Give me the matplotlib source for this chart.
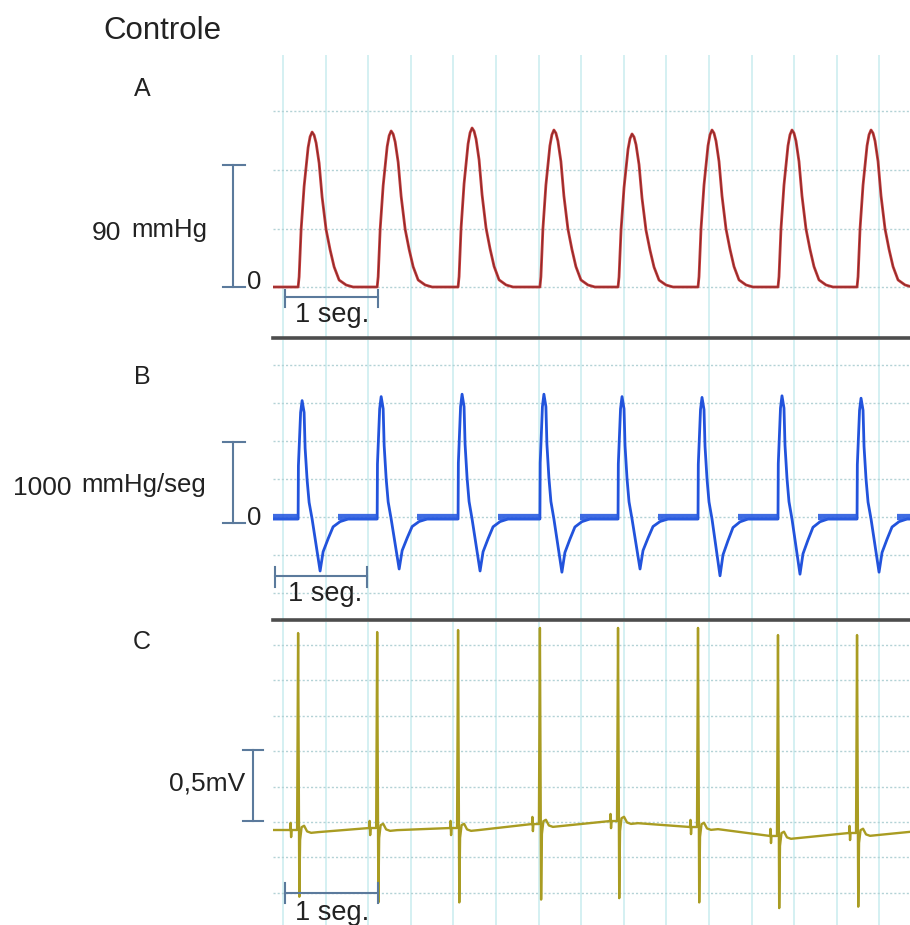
import numpy as np
import matplotlib
matplotlib.use("Agg")
import matplotlib.pyplot as plt

plt.rcParams['font.family'] = ['Liberation Sans', 'DejaVu Sans']

# ---------------- data ----------------
beat_times = [0.27, 1.12, 1.99, 2.87, 3.71, 4.57, 5.43, 6.28]          # s
# A: ventricular pressure (mmHg)
pressure_peak = [114.3, 115.1, 117.3, 115.8, 112.9, 115.8, 115.8, 115.8]
pressure_shape_t = [0, 1, 3, 6, 10, 12, 14, 16, 18, 21, 24, 28, 32, 36, 41, 48, 55]   # px after onset
pressure_shape_v = [0, 0.065, 0.37, 0.65, 0.90, 0.97, 1.0, 0.98, 0.93, 0.80, 0.58,
                    0.37, 0.24, 0.13, 0.045, 0.013, 0]
# B: dP/dt (mmHg/seg)
dpdt_max = [1480, 1530, 1560, 1560, 1530, 1520, 1540, 1510]
dpdt_min = [-650, -625, -650, -665, -625, -710, -690, -665]
dpdt_shape_t = [0, 0.3, 2.5, 4, 6, 7, 9, 11, 14, 17, 20, 22, 25, 30, 35, 42, 50]
dpdt_shape_v = [0, 0.45, 0.9, 1.0, 0.9, 0.6, 0.33, 0.14, 0, -0.38, -0.77, -1.0,
                -0.63, -0.38, -0.15, -0.05, 0]
# C: ECG (mV)
ecg_r = [1.387, 1.394, 1.408, 1.423, 1.423, 1.423, 1.373, 1.373]
ecg_s = [-0.47, -0.51, -0.51, -0.49, -0.48, -0.51, -0.55, -0.54]
ecg_baseline = [0.0, 0.014, 0.014, 0.042, 0.063, 0.021, -0.042, -0.021]
ecg_shape_t = [-8, -7.5, -7, -6.5, -1, 2, 3.5, 6, 9, 13, 20]
ecg_shape_v = [0, 0.05, -0.05, 0, 0, -0.07, 0.02, 0.03, -0.01, -0.02, -0.015]

# ---------------- layout ----------------
W, H = 910, 925
X0, PX_PER_S = 273, 93.0
T_END = (W - X0) / PX_PER_S

fig = plt.figure(figsize=(W / 100, H / 100), dpi=100)
fig.patch.set_facecolor('white')

def px_axes(top, bottom):
    return fig.add_axes([X0 / W, 1 - bottom / H, (W - X0) / W, (bottom - top) / H])

def tx(px):
    return (px - X0) / PX_PER_S

panels = {
    'A': dict(top=55, bottom=338, zero=287, ppu=122 / 90, hgrid0=287, hstep=58.5),
    'B': dict(top=340, bottom=620, zero=519, ppu=80 / 1000, hgrid0=517, hstep=38.0),
    'C': dict(top=622, bottom=925, zero=830, ppu=142.0, hgrid0=822, hstep=35.4),
}

axes = {}
for key, p in panels.items():
    ax = px_axes(p['top'], p['bottom'])
    ax.set_xlim(0, T_END)
    ax.set_ylim((p['zero'] - p['bottom']) / p['ppu'], (p['zero'] - p['top']) / p['ppu'])
    ax.set_xticks([]); ax.set_yticks([])
    for s in ax.spines.values():
        s.set_visible(False)
    # grid
    for k in range(16):
        xv = tx(283 + 42.6 * k)
        if xv < T_END:
            ax.axvline(xv, color='#cdedf0', lw=1.2, zorder=0)
    for k in range(-10, 11):
        py = p['hgrid0'] + k * p['hstep']
        if p['top'] + 2 < py < p['bottom'] - 2:
            ax.axhline((p['zero'] - py) / p['ppu'], color='#b3d2d6', lw=1.0,
                       ls=(0, (1.5, 1.5)), zorder=0)
    axes[key] = ax

for key in ['A', 'B']:
    sp = axes[key].spines['bottom']
    sp.set_visible(True); sp.set_color('#4d4d4d'); sp.set_linewidth(2.6)

def pyd(key, py):
    p = panels[key]
    return (p['zero'] - py) / p['ppu']

# ---------------- traces ----------------
# A
tA, yA = [0.0], [0.0]
for t0, pk in zip(beat_times, pressure_peak):
    for dt, v in zip(pressure_shape_t, pressure_shape_v):
        tA.append(t0 + dt / PX_PER_S); yA.append(pk * v)
tA.append(T_END + 0.2); yA.append(0.0)
axA = axes['A']
axA.plot(tA, yA, color='#c43a3a', lw=2.0, zorder=3, solid_joinstyle='round')
axA.plot(tA, yA, color='#6e2424', lw=0.7, alpha=0.7, zorder=4)

# B
tB, yB = [0.0], [0.0]
for t0, mx, mn in zip(beat_times, dpdt_max, dpdt_min):
    for dt, v in zip(dpdt_shape_t, dpdt_shape_v):
        tB.append(t0 + dt / PX_PER_S); yB.append(mx * v if v >= 0 else -mn * v)
tB.append(T_END + 0.2); yB.append(0.0)
axB = axes['B']
axB.plot(tB, yB, color='#2253dc', lw=2.0, zorder=3)
flat_starts = [0.0] + [t + 40 / PX_PER_S for t in beat_times]
flat_ends = list(beat_times) + [T_END + 0.2]
for a, b in zip(flat_starts, flat_ends):
    axB.plot([a, b], [25, 25], color='#2a5ce0', lw=4.5, alpha=0.9,
             solid_capstyle='butt', zorder=3)

# C
tC, yC = [0.0], [0.0]
for t0, r, s, bl in zip(beat_times, ecg_r, ecg_s, ecg_baseline):
    for dt, v in zip(ecg_shape_t, ecg_shape_v):
        if dt == -1:
            tC.append(t0 + dt / PX_PER_S); yC.append(bl)
            tC.append(t0); yC.append(r)
            tC.append(t0 + 1.2 / PX_PER_S); yC.append(s)
        else:
            tC.append(t0 + dt / PX_PER_S); yC.append(bl + v)
tC.append(T_END + 0.2); yC.append(0.0)
axC = axes['C']
axC.plot(tC, yC, color='#a99c22', lw=1.7, zorder=3)

# ---------------- scale bars ----------------
bar_c = '#5b7a9c'
def vbar(ax, x, xl, xr, y0, y1):
    ax.plot([x, x], [y0, y1], color=bar_c, lw=1.5, clip_on=False)
    ax.plot([xl, xr], [y0, y0], color=bar_c, lw=1.5, clip_on=False)
    ax.plot([xl, xr], [y1, y1], color=bar_c, lw=1.5, clip_on=False)

def hbar(ax, key, x0, x1, py, pt0, pt1):
    y = pyd(key, py)
    ax.plot([tx(x0), tx(x1)], [y, y], color=bar_c, lw=1.5, zorder=5)
    for xx in (x0, x1):
        ax.plot([tx(xx), tx(xx)], [pyd(key, pt0), pyd(key, pt1)], color=bar_c, lw=1.5, zorder=5)

vbar(axA, tx(233), tx(223), tx(245), 0, 90)
vbar(axB, tx(233), tx(223), tx(245), pyd('B', 523), pyd('B', 442))
vbar(axC, tx(253), tx(243), tx(263), pyd('C', 821), pyd('C', 750))

hbar(axA, 'A', 285, 378, 297, 290, 307)
hbar(axB, 'B', 275, 367, 576, 567, 587)
hbar(axC, 'C', 285, 378, 893, 883, 903)

# ---------------- texts ----------------
tc = '#222222'
def ftext(x, y, s, size, ha='left', va='center', **kw):
    fig.text(x / W, 1 - y / H, s, fontsize=size, ha=ha, va=va, color=tc, **kw)

ftext(103, 31, 'Controle', 22.5)
ftext(142, 89, 'A', 18, ha='center')
ftext(142, 377, 'B', 18, ha='center')
ftext(142, 642, 'C', 18, ha='center')

ftext(92, 240, '90', 19, va='baseline')
ftext(131, 237, 'mmHg', 18.5, va='baseline')
ftext(247, 282, '0', 18.5)

ftext(13, 495, '1000', 19, va='baseline')
ftext(81, 492, 'mmHg/seg', 18.5, va='baseline')
ftext(247, 518, '0', 18.5)

ftext(245, 783, '0,5mV', 19, ha='right')

ftext(332, 322, '1 seg.', 19.5, ha='center', va='baseline')
ftext(325, 601, '1 seg.', 19.5, ha='center', va='baseline')
ftext(332, 920, '1 seg.', 19.5, ha='center', va='baseline')

fig.savefig('out.png', dpi=100, facecolor='white')
